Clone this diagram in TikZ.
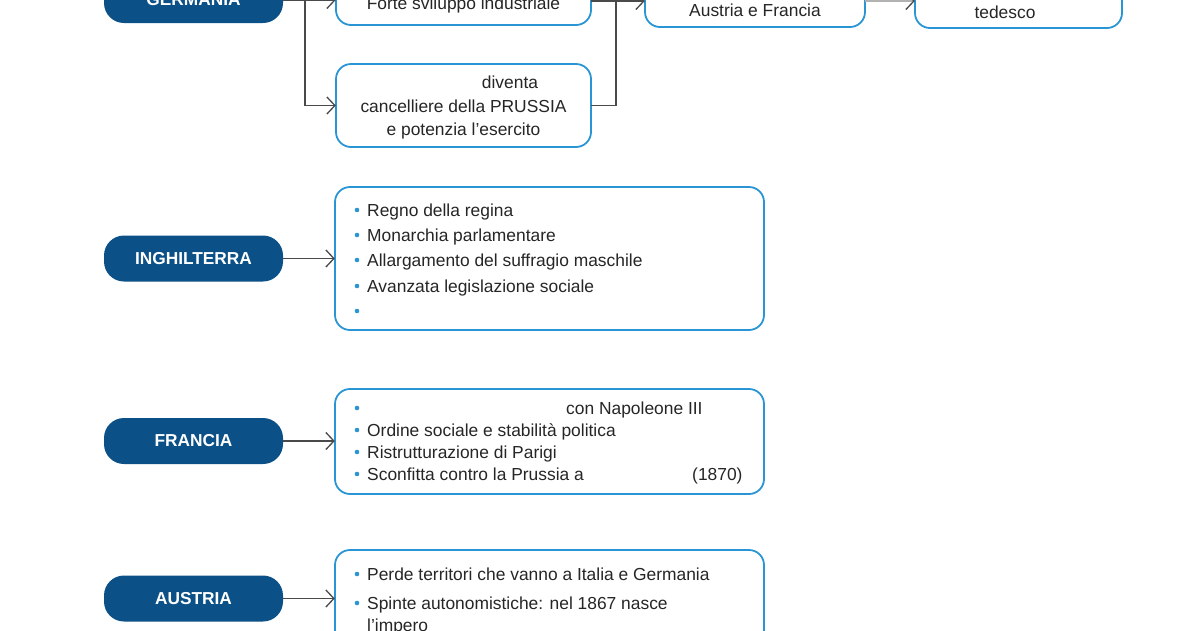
\documentclass[tikz,border=0pt]{standalone}
\usepackage{fontspec}
\setmainfont{Liberation Sans}
\usetikzlibrary{arrows.meta}
\definecolor{dblue}{HTML}{0B5086}
\definecolor{lblue}{HTML}{2A95D4}
\definecolor{lgray}{HTML}{4A4A4A}
\tikzset{
  title/.style={fill=dblue, rounded corners=20pt, minimum width=179pt, minimum height=46pt, inner sep=0pt, text=white, font=\fontsize{17.3}{19}\selectfont\bfseries},
  lbox/.style={draw=lblue, line width=1.8pt, rounded corners=15pt, fill=white},
  conn/.style={draw=lgray, line width=1.4pt},
  arr/.style={conn, -{Straight Barb[length=8pt,width=17pt,line width=1.3pt]}},
  txt/.style={inner sep=0pt, anchor=base west, font=\fontsize{17.4}{19}\selectfont, text=black!85},
  ctxt/.style={inner sep=0pt, anchor=base, font=\fontsize{17.4}{19}\selectfont, text=black!85},
  dot/.style={fill=lblue}
}
\begin{document}
\begin{tikzpicture}[x=1pt,y=-1pt]
\useasboundingbox (0,0) rectangle (1200,630);
\clip (0,0) rectangle (1200,630);
% ---------- GERMANIA ----------
\node[title] (germ) at (193.5,0) {GERMANIA};
\draw[lbox] (336,-19) rectangle (591,25);
\node[inner sep=0pt, minimum width=255pt, minimum height=44pt] (forte) at (463.5,3) {};
\node[ctxt] (fortet) at (463.5,9) {Forte sviluppo industriale};
\draw[lbox] (336,64) rectangle (591,147);
\node[inner sep=0pt, minimum width=255pt, minimum height=83pt] (prus) at (463.5,105.5) {};
\node[ctxt] (prus1) at (510,88) {diventa};
\node[ctxt] (prus2) at (463.5,112) {cancelliere della PRUSSIA};
\node[ctxt] (prus3) at (463.5,135) {e potenzia l’esercito};
\draw[lbox] (645,-60) rectangle (865,27);
\node[inner sep=0pt, minimum width=220pt, minimum height=87pt] (austfr) at (755,-16.5) {};
\node[ctxt] (austfrt) at (755,16) {Austria e Francia};
\draw[lbox] (915,-60) rectangle (1122,28);
\node[inner sep=0pt, minimum width=207pt, minimum height=88pt] (ted) at (1018.5,-16) {};
\node[ctxt] (tedt) at (1005,18) {tedesco};
\coordinate (j1) at (305,0);
\coordinate (j2) at (616,1);
\draw[arr] (germ.east) -- (germ.east -| forte.west);
\draw[arr] (j1) |- (prus.west);
\draw[conn] (forte.east |- 0,1) -- (j2);
\draw[conn] (prus.east) -| (j2);
\draw[arr] (j2) -- (j2 -| austfr.west);
\draw[draw=gray!60, line width=1.4pt, -{Straight Barb[length=8pt,width=17pt,line width=1.3pt,color=lgray]}] (austfr.east |- 0,1) -- (ted.west |- 0,1);
% ---------- INGHILTERRA ----------
\node[title] (ing) at (193.5,258.5) {INGHILTERRA};
\draw[lbox] (335,187) rectangle (764,330);
\node[inner sep=0pt, minimum width=429pt, minimum height=143pt] (ingb) at (549.5,258.5) {};
\draw[arr] (ing.east) -- (ingb.west);
\fill[dot] (357,210) circle (2.3pt);
\fill[dot] (357,235) circle (2.3pt);
\fill[dot] (357,260) circle (2.3pt);
\fill[dot] (357,286) circle (2.3pt);
\fill[dot] (357,311) circle (2.3pt);
\node[txt] (i1) at (367,216) {Regno della regina};
\node[txt] (i2) at (367,241) {Monarchia parlamentare};
\node[txt] (i3) at (367,266) {Allargamento del suffragio maschile};
\node[txt] (i4) at (367,292) {Avanzata legislazione sociale};
% ---------- FRANCIA ----------
\node[title] (fra) at (193.5,441) {FRANCIA};
\draw[lbox] (335,389) rectangle (764,494);
\node[inner sep=0pt, minimum width=429pt, minimum height=105pt] (frab) at (549.5,441.5) {};
\draw[arr] (fra.east) -- (fra.east -| frab.west);
\fill[dot] (357,408) circle (2.3pt);
\fill[dot] (357,430) circle (2.3pt);
\fill[dot] (357,452) circle (2.3pt);
\fill[dot] (357,474) circle (2.3pt);
\node[txt] (f1) at (566,414) {con Napoleone III};
\node[txt] (f2) at (367,436) {Ordine sociale e stabilità politica};
\node[txt] (f3) at (367,458) {Ristrutturazione di Parigi};
\node[txt] (f4) at (367,480) {Sconfitta contro la Prussia a};
\node[txt] (f5) at (692,480) {(1870)};
% ---------- AUSTRIA ----------
\node[title] (aus) at (193.5,598.5) {AUSTRIA};
\draw[lbox] (335,550) rectangle (764,680);
\node[inner sep=0pt, minimum width=429pt, minimum height=98pt] (ausb) at (549.5,599) {};
\draw[arr] (aus.east) -- (aus.east -| ausb.west);
\fill[dot] (357,574) circle (2.3pt);
\fill[dot] (357,603) circle (2.3pt);
\node[txt] (a1) at (367,580) {Perde territori che vanno a Italia e Germania};
\node[txt] (a2) at (367,609) {Spinte autonomistiche: nel 1867 nasce};
\node[txt] (a3) at (367,631) {l’impero};
\end{tikzpicture}
\end{document}
